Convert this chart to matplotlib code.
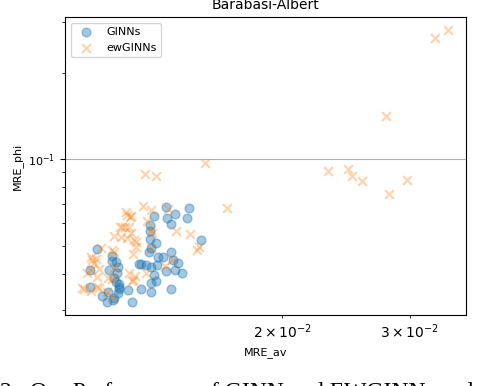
import matplotlib
matplotlib.use('Agg')
import matplotlib.pyplot as plt

# GINNs results (blue circles)
ginn_av = [0.01384, 0.01489, 0.01332, 0.01388, 0.01424, 0.01479, 0.01406, 0.01315,
           0.01315, 0.01315, 0.01340, 0.01319, 0.01547, 0.01111, 0.01165, 0.01180,
           0.01188, 0.01184, 0.01154, 0.01086, 0.01270, 0.01278, 0.01319, 0.01349,
           0.01370, 0.01406, 0.01345, 0.01415, 0.01438, 0.01456, 0.01424, 0.01384,
           0.01332, 0.01340, 0.01319, 0.01319, 0.01278, 0.01226, 0.01191, 0.01180,
           0.01173, 0.01191, 0.01188, 0.01173, 0.01147, 0.01129, 0.01150, 0.01086,
           0.01242, 0.01406, 0.01298, 0.01311, 0.01169, 0.01191, 0.01165]
ginn_phi = [0.0683, 0.0678, 0.0636, 0.0625, 0.0646, 0.0625, 0.0596, 0.0591,
            0.0564, 0.0529, 0.0512, 0.0492, 0.0525, 0.0488, 0.0461, 0.0440,
            0.0423, 0.0403, 0.0413, 0.0413, 0.0433, 0.0433, 0.0423, 0.0458,
            0.0458, 0.0477, 0.0430, 0.0447, 0.0436, 0.0403, 0.0413, 0.0409,
            0.0397, 0.0378, 0.0372, 0.0346, 0.0355, 0.0352, 0.0369, 0.0375,
            0.0387, 0.0355, 0.0343, 0.0330, 0.0319, 0.0335, 0.0346, 0.0360,
            0.0319, 0.0355, 0.0430, 0.0477, 0.0325, 0.0360, 0.0443]

# ewGINNs results (orange crosses)
ew_av = [0.03249, 0.03386, 0.02780, 0.02318, 0.02463, 0.02495, 0.02575, 0.02806,
         0.02972, 0.01680, 0.01567, 0.01294, 0.01340,
         0.01286, 0.01319, 0.01218, 0.01238, 0.01234, 0.01302, 0.01195, 0.01214,
         0.01238, 0.01222, 0.01173, 0.01319, 0.01323, 0.01429, 0.01493, 0.01393,
         0.01258, 0.01250, 0.01537, 0.01527, 0.01165, 0.01125, 0.01246, 0.01319,
         0.01090, 0.01107, 0.01100, 0.01118, 0.01076, 0.01111, 0.01173, 0.01230,
         0.01254, 0.01242, 0.01298, 0.01411, 0.01379, 0.01066, 0.01090, 0.01111,
         0.01147, 0.01165, 0.01059, 0.01093, 0.01090, 0.01173, 0.01199, 0.01203,
         0.01230, 0.01222, 0.01258, 0.01246, 0.01165, 0.01150, 0.01118]
ew_phi = [0.2638, 0.2812, 0.1413, 0.0911, 0.0925, 0.0875, 0.0841, 0.0758,
          0.0848, 0.0678, 0.0971, 0.0889, 0.0875,
          0.0688, 0.0667, 0.0656, 0.0636, 0.0630, 0.0610, 0.0582, 0.0582,
          0.0555, 0.0533, 0.0542, 0.0568, 0.0555, 0.0564, 0.0550, 0.0672,
          0.0496, 0.0525, 0.0496, 0.0484, 0.0484, 0.0492, 0.0469, 0.0492,
          0.0458, 0.0451, 0.0436, 0.0416, 0.0403, 0.0390, 0.0419, 0.0403,
          0.0393, 0.0378, 0.0403, 0.0447, 0.0426, 0.0355, 0.0349, 0.0360,
          0.0346, 0.0384, 0.0357, 0.0447, 0.0413, 0.0477, 0.0537, 0.0582,
          0.0582, 0.0641, 0.0516, 0.0381, 0.0332, 0.0387, 0.0357]

fig = plt.figure(figsize=(4.82, 3.86), dpi=100)
ax = fig.add_axes([0.1349, 0.1839, 0.832, 0.7713])

ax.scatter(ginn_av, ginn_phi, s=40, marker='o', color='tab:blue', alpha=0.4, label='GINNs')
ax.scatter(ew_av, ew_phi, s=40, marker='x', color='tab:orange', alpha=0.35, label='ewGINNs')

ax.set_xscale('log')
ax.set_yscale('log')
ax.set_xlim(0.01003, 0.0359)
ax.set_ylim(0.0288, 0.311)
ax.grid(True, which='major')

ax.set_title('Barabasi-Albert', fontsize=10)
ax.set_xlabel('MRE_av', fontsize=8)
ax.set_ylabel('MRE_phi', fontsize=8)
ax.tick_params(labelsize=8)
ax.legend(loc='upper left', fontsize=8)

# caption of the paper, cut off by the crop
fig.text(0.0, 0.0104, '2:  Our Performance of GINN and EWGINN model', va='top', ha='left',
         family='Liberation Serif', fontsize=17)

fig.savefig('out.png', dpi=100)
